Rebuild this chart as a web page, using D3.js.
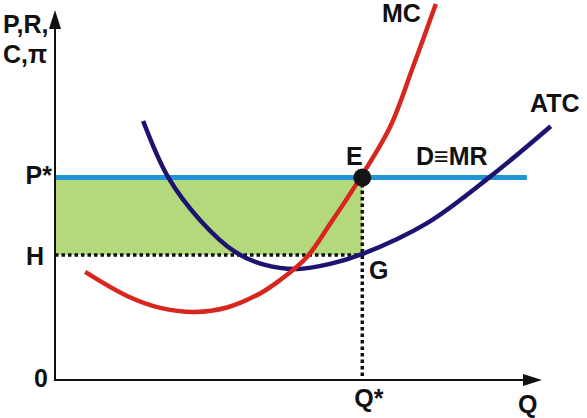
<!DOCTYPE html>
<html><head><meta charset="utf-8">
<script src="https://cdn.jsdelivr.net/npm/d3@7"></script>
<style>body{margin:0;background:#fff}svg{display:block}text{font-family:"Liberation Sans",Arial,sans-serif;font-weight:bold;fill:#111}</style>
</head><body>
<script>
// Data (abstract units: Q on x, price/cost on y)
const mcQ = [0.62, 1.48, 2.16, 2.87, 3.53, 4.21, 4.62, 5.17, 5.65, 6.20, 6.88, 7.35, 7.82];
const mcC = [2.92, 2.27, 1.95, 1.84, 1.96, 2.34, 2.70, 3.32, 4.22, 5.32, 6.84, 8.46, 10.16];
const atcQ = [1.81, 2.32, 2.98, 3.70, 4.31, 4.97, 5.65, 6.30, 7.64, 8.93, 10.18];
const atcC = [7.00, 5.49, 4.32, 3.46, 3.11, 3.00, 3.14, 3.40, 4.24, 5.49, 6.86];
const pStar = 5.47;     // price P* = D = MR
const hLevel = 3.38;    // ATC at Q* (H)
const qStar = 6.31;     // optimal quantity
const demandEnd = 9.69;
const yLabels = ["P*", "H", "0"];

const W = 587, H = 418;
const x = d3.scaleLinear().domain([0, 10]).range([55, 542]);
const y = d3.scaleLinear().domain([0, 10]).range([380, 10]);

const svg = d3.select("body").append("svg").attr("width", W).attr("height", H);

// profit rectangle
svg.append("rect")
  .attr("x", x(0)).attr("y", y(pStar))
  .attr("width", x(qStar) - x(0)).attr("height", y(hLevel) - y(pStar))
  .attr("fill", "#b4d97d");

// dotted lines
svg.append("line").attr("x1", x(0)).attr("x2", x(qStar)).attr("y1", y(hLevel)).attr("y2", y(hLevel))
  .attr("stroke", "#111").attr("stroke-width", 3.5).attr("stroke-dasharray", "3.5,3");
svg.append("line").attr("x1", x(qStar)).attr("x2", x(qStar)).attr("y1", y(pStar)).attr("y2", y(0))
  .attr("stroke", "#111").attr("stroke-width", 3.5).attr("stroke-dasharray", "3.5,3");

// demand line
svg.append("line").attr("x1", x(0)).attr("x2", x(demandEnd)).attr("y1", y(pStar)).attr("y2", y(pStar))
  .attr("stroke", "#1e95d4").attr("stroke-width", 5);

const line = d3.line().x(d => x(d[0])).y(d => y(d[1])).curve(d3.curveCatmullRom.alpha(0.5));

svg.append("path").datum(atcQ.map((q, i) => [q, atcC[i]])).attr("d", line)
  .attr("fill", "none").attr("stroke", "#1c1470").attr("stroke-width", 4.5);
svg.append("path").datum(mcQ.map((q, i) => [q, mcC[i]])).attr("d", line)
  .attr("fill", "none").attr("stroke", "#d8261e").attr("stroke-width", 4.5);

// point E
svg.append("circle").attr("cx", x(qStar)).attr("cy", y(pStar)).attr("r", 9).attr("fill", "#151515");

// axes
svg.append("line").attr("x1", x(0)).attr("x2", x(0)).attr("y1", y(0) + 1).attr("y2", y(10) + 10)
  .attr("stroke", "#111").attr("stroke-width", 2);
svg.append("line").attr("x1", x(0) - 1).attr("x2", x(10) - 12).attr("y1", y(0)).attr("y2", y(0))
  .attr("stroke", "#111").attr("stroke-width", 2);
svg.append("path").attr("d", `M${x(0)},${y(10)} L${x(0) - 6},${y(10) + 19} L${x(0) + 6},${y(10) + 19} Z`).attr("fill", "#111");
svg.append("path").attr("d", `M${x(10)},${y(0)} L${x(10) - 19},${y(0) - 6} L${x(10) - 19},${y(0) + 6} Z`).attr("fill", "#111");

// labels
const fs = 25;
function lab(t, px, py, anchor) {
  svg.append("text").attr("x", px).attr("y", py).attr("font-size", fs)
    .attr("text-anchor", anchor || "start").text(t);
}
lab("P,R,", 3, 33);
lab("C,π", 3, 63);
lab(yLabels[0], x(0) - 3, y(pStar) + 6, "end");
lab(yLabels[1], x(0) - 11, y(hLevel) + 10, "end");
lab(yLabels[2], x(0) - 7, y(0) + 7, "end");
lab("Q*", x(qStar) - 8, 407);
lab("Q", 518, 413);
lab("E", 346, 165);
lab("D≡MR", 416, 165);
lab("G", 369, 279);
lab("MC", 382, 22);
lab("ATC", 530, 112);
</script>
</body></html>
